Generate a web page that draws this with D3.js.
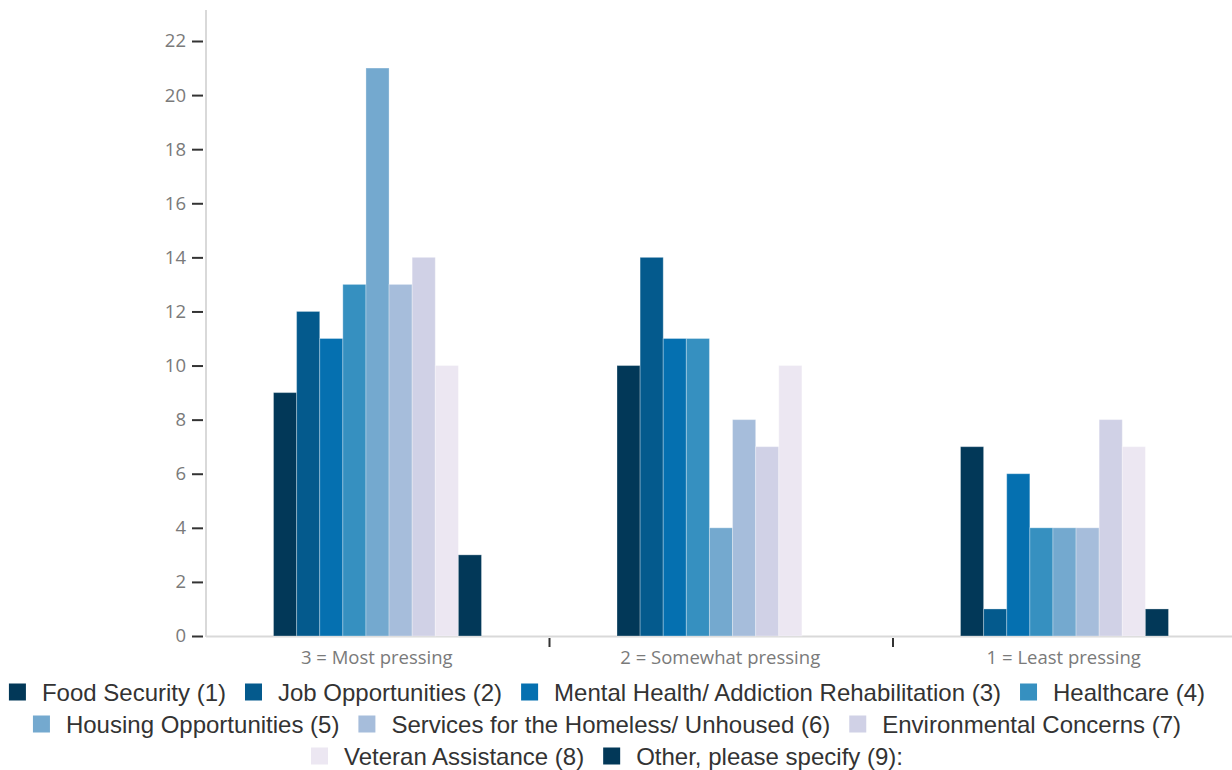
<!DOCTYPE html>
<html>
<head>
<meta charset="utf-8">
<script src="https://cdn.jsdelivr.net/npm/d3@7"></script>
<style>
  html, body { margin: 0; padding: 0; background: #fff; }
  svg { display: block; }
</style>
</head>
<body>
<svg id="chart" width="1232" height="770"></svg>
<script>
// Survey responses: how pressing each issue is, count of respondents per rating
const categories = ["3 = Most pressing", "2 = Somewhat pressing", "1 = Least pressing"];
const seriesNames = [
  "Food Security (1)",
  "Job Opportunities (2)",
  "Mental Health/ Addiction Rehabilitation (3)",
  "Healthcare (4)",
  "Housing Opportunities (5)",
  "Services for the Homeless/ Unhoused (6)",
  "Environmental Concerns (7)",
  "Veteran Assistance (8)",
  "Other, please specify (9):"
];
const seriesColors = ["#023858", "#045a8d", "#0570b0", "#3690c0", "#74a9cf", "#a6bddb", "#d0d1e6", "#ece7f2", "#023858"];
// one array per rating, values in series order
const mostPressing     = [9, 12, 11, 13, 21, 13, 14, 10, 3];
const somewhatPressing = [10, 14, 11, 11, 4, 8, 7, 10, 0];
const leastPressing    = [7, 1, 6, 4, 4, 4, 8, 7, 1];
const yTicks = [0, 2, 4, 6, 8, 10, 12, 14, 16, 18, 20, 22];

const groupValues = [mostPressing, somewhatPressing, leastPressing];

const svg = d3.select("#chart");
const axisFont = "'Open Sans', sans-serif";
const legendFont = "'Liberation Sans', Arial, sans-serif";

const plot = { left: 206, right: 1236.5, top: 10, bottom: 636 };

const x0 = d3.scaleBand().domain(categories).range([plot.left, plot.right]).padding(0);
const x1 = d3.scaleBand().domain(seriesNames.map((d, i) => i))
  .range([67.5, x0.bandwidth() - 68]).padding(0);
const y = d3.scaleLinear().domain([0, 22]).range([plot.bottom, 41]);

// baseline
svg.append("line")
  .attr("x1", plot.left).attr("x2", 1232)
  .attr("y1", plot.bottom + 0.5).attr("y2", plot.bottom + 0.5)
  .attr("stroke", "#d9d9d9").attr("stroke-width", 2);

// bars
const groups = svg.append("g").selectAll("g")
  .data(categories)
  .join("g")
  .attr("transform", d => `translate(${x0(d)},0)`);

groups.selectAll("rect")
  .data((c, gi) => groupValues[gi].map((v, si) => ({ v, si })))
  .join("rect")
  .attr("x", d => x1(d.si))
  .attr("width", x1.bandwidth())
  .attr("y", d => y(d.v))
  .attr("height", d => y(0) - y(d.v))
  .attr("fill", d => seriesColors[d.si])
  .attr("stroke", "rgba(255,255,255,0.3)")
  .attr("stroke-width", 1);

// y axis
svg.append("line")
  .attr("x1", plot.left).attr("x2", plot.left)
  .attr("y1", plot.top).attr("y2", plot.bottom + 1)
  .attr("stroke", "#d9d9d9").attr("stroke-width", 2);

const yAxis = d3.axisLeft(y).tickValues(yTicks).tickSize(11).tickPadding(6).tickSizeOuter(0);
const yg = svg.append("g").attr("transform", `translate(${plot.left - 3},0)`).call(yAxis);
yg.select(".domain").remove();
yg.selectAll(".tick line").attr("stroke", "#333").attr("stroke-width", 2);
yg.selectAll(".tick text")
  .attr("fill", "#7a7a7a")
  .style("font-family", axisFont)
  .style("font-size", "18.5px");

// category separators
const separators = categories.slice(1).map(c => x0(c));
svg.append("g").selectAll("line")
  .data(separators)
  .join("line")
  .attr("x1", d => d).attr("x2", d => d)
  .attr("y1", plot.bottom + 2).attr("y2", plot.bottom + 11)
  .attr("stroke", "#333").attr("stroke-width", 2);

// category labels
svg.append("g").selectAll("text")
  .data(categories)
  .join("text")
  .attr("x", d => x0(d) + x0.bandwidth() / 2 - 1)
  .attr("y", 664)
  .attr("text-anchor", "middle")
  .attr("fill", "#7a7a7a")
  .style("font-family", axisFont)
  .style("font-size", "18.5px")
  .text(d => d);

// legend, wrapped into centred rows
const legend = svg.append("g");
const sw = 17, textGap = 16, itemGap = 19, maxRow = 1212, rowH = 32, legendCenter = 607, firstRowY = 692;
const items = seriesNames.map((name, i) => {
  const g = legend.append("g");
  g.append("rect").attr("width", sw).attr("height", sw).attr("y", -sw / 2)
    .attr("fill", seriesColors[i]);
  const t = g.append("text").attr("x", sw + textGap).attr("dy", "0.36em")
    .attr("fill", "#333")
    .style("font-family", legendFont)
    .style("font-size", "24px")
    .text(name);
  const w = sw + textGap + t.node().getComputedTextLength();
  return { g, w };
});
const rows = [];
let cur = [], curW = 0;
items.forEach(it => {
  const add = (cur.length ? itemGap : 0) + it.w;
  if (cur.length && curW + add > maxRow) { rows.push({ items: cur, w: curW }); cur = [it]; curW = it.w; }
  else { cur.push(it); curW += add; }
});
if (cur.length) rows.push({ items: cur, w: curW });
rows.forEach((r, ri) => {
  let xPos = legendCenter - r.w / 2;
  r.items.forEach(it => {
    it.g.attr("transform", `translate(${xPos},${firstRowY + ri * rowH})`);
    xPos += it.w + itemGap;
  });
});
</script>
</body>
</html>
